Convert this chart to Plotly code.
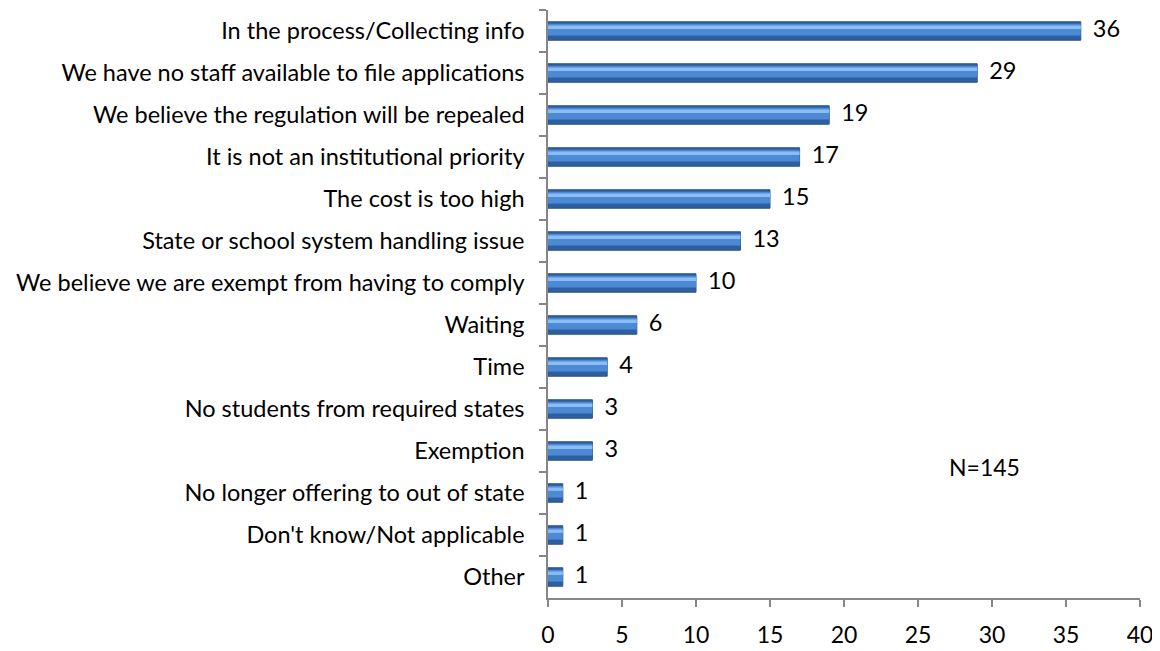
import plotly.graph_objects as go

categories = [
    "In the process/Collecting info",
    "We have no staff available to file applications",
    "We believe the regulation will be repealed",
    "It is not an institutional priority",
    "The cost is too high",
    "State or school system handling issue",
    "We believe we are exempt from having to comply",
    "Waiting",
    "Time",
    "No students from required states",
    "Exemption",
    "No longer offering to out of state",
    "Don't know/Not applicable",
    "Other",
]
counts = [36, 29, 19, 17, 15, 13, 10, 6, 4, 3, 3, 1, 1, 1]
x_ticks = [0, 5, 10, 15, 20, 25, 30, 35, 40]

FONT = "Lato"
FSIZE = 23.5
AXIS = "#868686"

fig = go.Figure()

# dark base bar (gives the bevelled edge)
fig.add_trace(go.Bar(
    x=counts, y=categories, orientation="h",
    width=0.44,
    marker=dict(color="#2F5F9E", line=dict(color="#2A568F", width=1)),
    hoverinfo="skip", showlegend=False,
))
# lighter face
fig.add_trace(go.Bar(
    x=counts, y=categories, orientation="h",
    width=0.28, offset=-0.17,
    marker=dict(color="#4C8AD6", line=dict(width=0)),
    hoverinfo="skip", showlegend=False,
))
# highlight stripe
fig.add_trace(go.Bar(
    x=counts, y=categories, orientation="h",
    width=0.08, offset=-0.13,
    marker=dict(color="#8CBDF2", line=dict(width=0)),
    hoverinfo="skip", showlegend=False,
))
# value labels
fig.add_trace(go.Scatter(
    x=counts, y=categories, mode="text",
    text=["\u00a0\u00a0" + str(c) for c in counts],
    textposition="middle right",
    textfont=dict(family=FONT, size=FSIZE, color="#000000"),
    cliponaxis=False, hoverinfo="skip", showlegend=False,
))

fig.update_layout(
    width=1152, height=643,
    barmode="overlay",
    plot_bgcolor="white", paper_bgcolor="white",
    margin=dict(l=540, r=20, t=2, b=53),
    font=dict(family=FONT, size=FSIZE, color="#000000"),
    annotations=[dict(
        x=29.5, y=10.38, xref="x", yref="y",
        text="N=145", showarrow=False,
        font=dict(family=FONT, size=23, color="#000000"),
    )],
)

fig.update_xaxes(
    range=[0, 40], tickvals=x_ticks,
    showgrid=False, zeroline=False,
    showline=True, linecolor=AXIS, linewidth=1.5,
    ticks="outside", ticklen=7, tickcolor=AXIS, tickwidth=1.5,
    tickfont=dict(family=FONT, size=23), ticklabelstandoff=9,
    automargin=False,
)
fig.update_yaxes(
    range=[len(categories) - 0.5, -0.5],
    showgrid=False, zeroline=False,
    showline=True, linecolor=AXIS, linewidth=1.5,
    ticks="outside", ticklen=7, tickcolor=AXIS, tickwidth=1.5,
    tickson="boundaries",
    tickfont=dict(family=FONT, size=FSIZE), ticklabelstandoff=17,
    automargin=False,
)

fig.write_html("out.html")
